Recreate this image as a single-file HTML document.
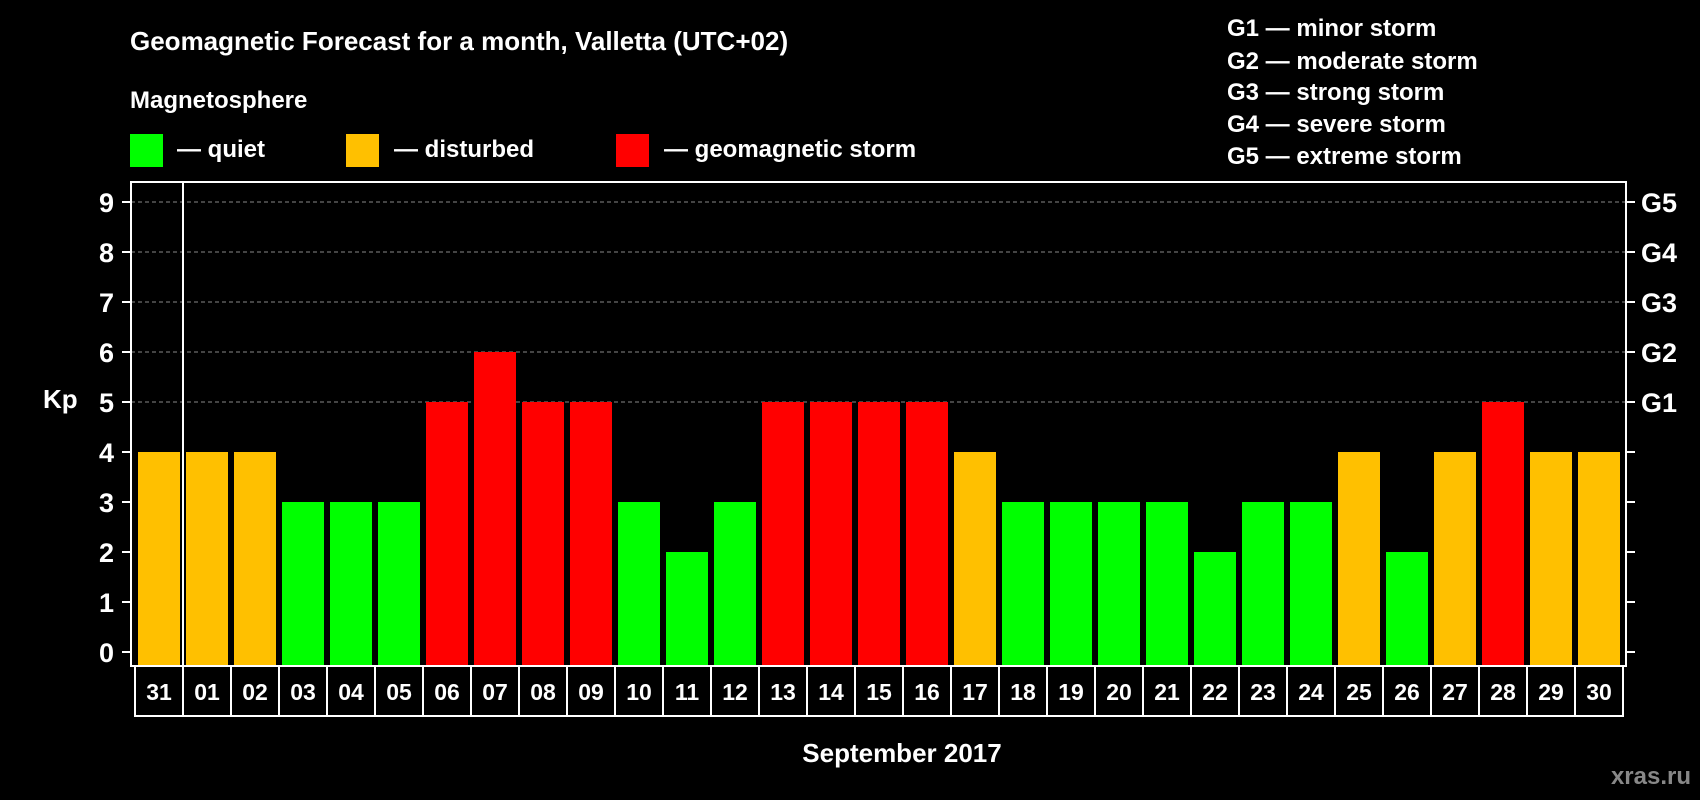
<!DOCTYPE html>
<html><head><meta charset="utf-8"><style>
html,body{margin:0;padding:0;background:#000;}
svg{display:block;font-family:"Liberation Sans",Arial,sans-serif;font-weight:bold;}
</style></head><body>
<svg id="chart" width="1700" height="800" viewBox="0 0 1700 800">
<text x="130" y="50" fill="#fff" font-size="26">Geomagnetic Forecast for a month, Valletta (UTC+02)</text>
<text x="130" y="108" fill="#fff" font-size="24">Magnetosphere</text>
<g><rect x="130" y="134" width="33" height="33" fill="#00ff00"/><text x="177" y="157" fill="#fff" font-size="24">— quiet</text></g>
<g><rect x="346" y="134" width="33" height="33" fill="#ffc000"/><text x="394" y="157" fill="#fff" font-size="24">— disturbed</text></g>
<g><rect x="616" y="134" width="33" height="33" fill="#ff0000"/><text x="664" y="157" fill="#fff" font-size="24">— geomagnetic storm</text></g>
<g fill="#fff" font-size="24">
<text x="1227" y="36">G1 — minor storm</text>
<text x="1227" y="69">G2 — moderate storm</text>
<text x="1227" y="100">G3 — strong storm</text>
<text x="1227" y="132">G4 — severe storm</text>
<text x="1227" y="164">G5 — extreme storm</text>
</g>
<text x="43" y="408" fill="#fff" font-size="26">Kp</text>
<text x="902" y="762" fill="#fff" font-size="26" text-anchor="middle">September 2017</text>
<text x="1691" y="784" fill="#888" font-size="24" text-anchor="end">xras.ru</text>
<g id="grid"></g><g id="bars"></g><g id="axes"></g>
</svg>
<script>
const days=["31","01","02","03","04","05","06","07","08","09","10","11","12","13","14","15","16","17","18","19","20","21","22","23","24","25","26","27","28","29","30"];
const kp=[4,4,4,3,3,3,5,6,5,5,3,2,3,5,5,5,5,4,3,3,3,3,2,3,3,4,2,4,5,4,4];
const yTicks=[0,1,2,3,4,5,6,7,8,9];
const gLabels=["G1","G2","G3","G4","G5"];
const gLevels=[5,6,7,8,9];
const NS="http://www.w3.org/2000/svg";
const L=131,R=1626,T=182,B=666;
const y=v=>652-v*50;
const x=i=>138+i*48;
function mk(p,t,a){const e=document.createElementNS(NS,t);for(const k in a)e.setAttribute(k,a[k]);p.appendChild(e);return e;}
const grid=document.getElementById('grid'),bars=document.getElementById('bars'),axes=document.getElementById('axes');
gLevels.forEach(v=>{const l=mk(grid,'line',{x1:L,x2:R,y1:y(v),y2:y(v),stroke:'#888','stroke-dasharray':'4,3','stroke-width':1});

});
kp.forEach((v,i)=>{const c=v>=5?'#ff0000':v>=4?'#ffc000':'#00ff00';
const r=mk(bars,'rect',{x:x(i),y:y(v),width:42,height:B-y(v),fill:c});

});
const f=mk(axes,'rect',{x:L,y:T,width:R-L,height:B-T,fill:'none',stroke:'#fff','stroke-width':2});


const d=mk(axes,'line',{x1:183,x2:183,y1:T,y2:716,stroke:'#fff','stroke-width':2});


yTicks.forEach(v=>{mk(axes,'line',{x1:122,x2:L,y1:y(v),y2:y(v),stroke:'#fff','stroke-width':2});
mk(axes,'line',{x1:R,x2:1635,y1:y(v),y2:y(v),stroke:'#fff','stroke-width':2});
const t=mk(axes,'text',{x:114,y:y(v)+10,fill:'#fff','font-size':27,'text-anchor':'end'});t.textContent=v;

});
gLabels.forEach((g,i)=>{const t=mk(axes,'text',{x:1641,y:y(gLevels[i])+10,fill:'#fff','font-size':27});t.textContent=g;

});
days.forEach((dd,i)=>{const bx=135+i*48;
const b=mk(axes,'rect',{x:bx,y:B,width:48,height:50,fill:'none',stroke:'#fff','stroke-width':2});


const t=mk(axes,'text',{x:bx+24,y:700,fill:'#fff','font-size':23,'text-anchor':'middle'});t.textContent=dd;

});
</script>
</body></html>
